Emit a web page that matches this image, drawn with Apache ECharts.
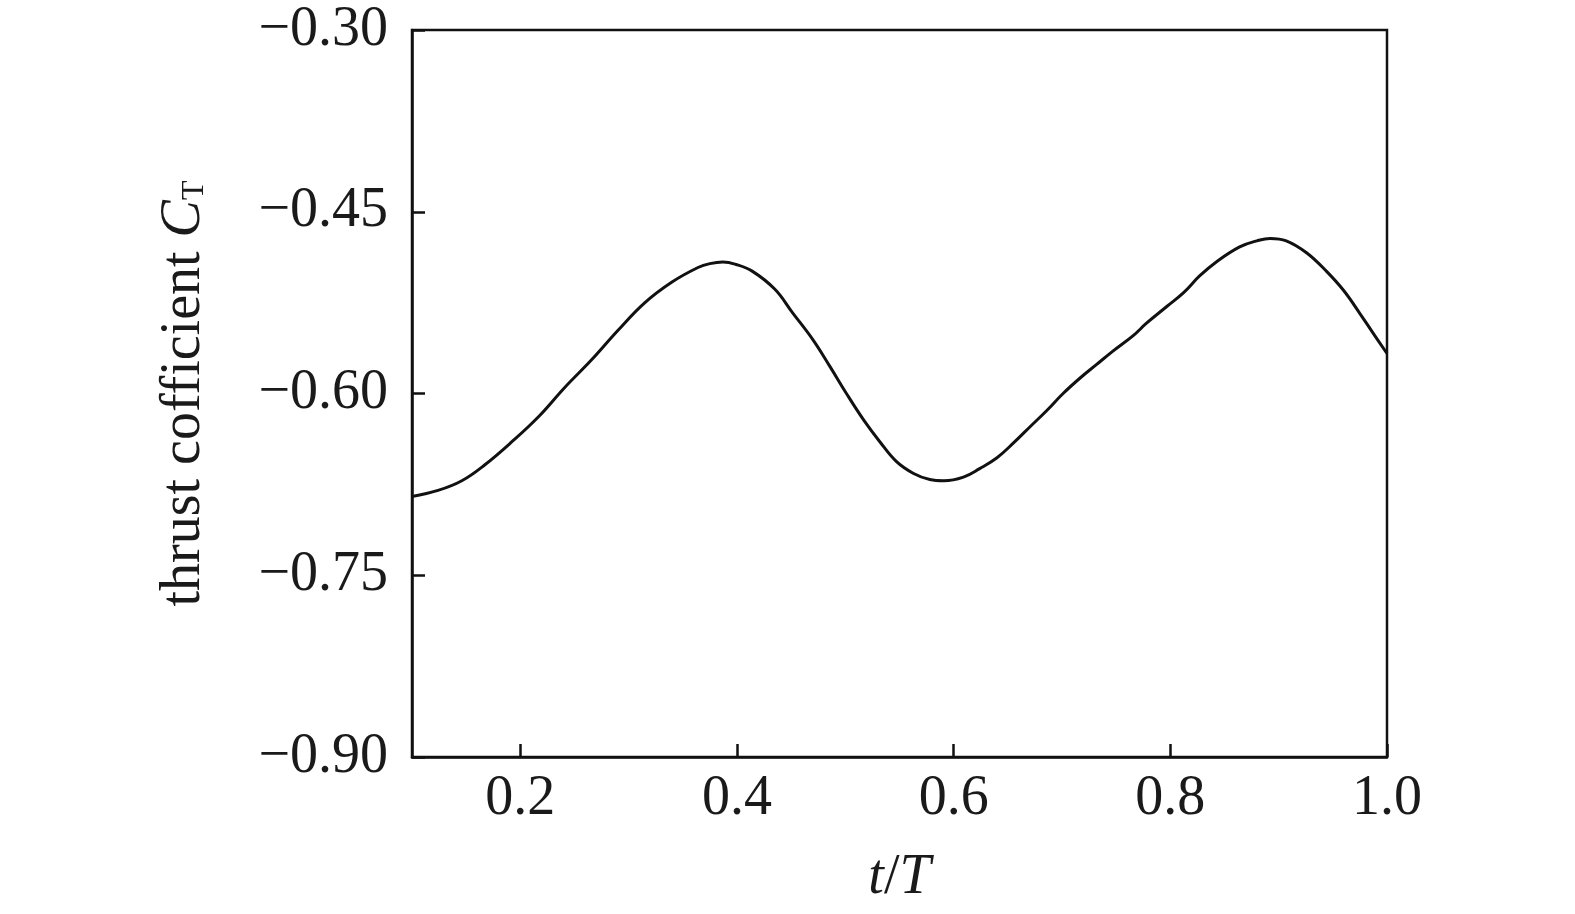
<!DOCTYPE html>
<html>
<head>
<meta charset="utf-8">
<script src="https://cdn.jsdelivr.net/npm/echarts@6/dist/echarts.min.js"></script>
<style>
html,body{margin:0;padding:0;background:#fff;}
#chart{width:1575px;height:914px;}
</style>
</head>
<body>
<div id="chart"></div>
<script>
// t/T values
var tValues = [0.100,0.124,0.146,0.167,0.192,0.217,0.241,0.266,0.290,0.315,0.340,0.364,0.375,0.387,0.399,0.414,0.435,0.451,0.470,0.486,0.501,0.517,0.532,0.547,0.563,0.578,0.591,0.609,0.624,0.640,0.655,0.671,0.686,0.701,0.717,0.732,0.747,0.766,0.778,0.797,0.812,0.827,0.843,0.864,0.880,0.892,0.907,0.926,0.944,0.960,0.975,0.987,1.000];
// thrust coefficient C_T values
var ctValues = [-0.685,-0.680,-0.672,-0.659,-0.640,-0.619,-0.595,-0.572,-0.548,-0.525,-0.508,-0.496,-0.4928,-0.4915,-0.4935,-0.499,-0.514,-0.533,-0.5555,-0.578,-0.600,-0.622,-0.640,-0.656,-0.666,-0.671,-0.672,-0.669,-0.662,-0.653,-0.641,-0.627,-0.614,-0.600,-0.587,-0.576,-0.565,-0.552,-0.542,-0.528,-0.517,-0.503,-0.491,-0.479,-0.474,-0.472,-0.474,-0.484,-0.499,-0.515,-0.534,-0.550,-0.567];
var xTickValues = [0.2,0.4,0.6,0.8,1.0];
var yTickStep = 0.15;

var seriesData = tValues.map(function(t,i){return [t, ctValues[i]];});
var FONT = '"Liberation Serif","Times New Roman",serif';
var TXT = '#1a1a1a';

var chart = echarts.init(document.getElementById('chart'));
chart.setOption({
  animation:false,
  backgroundColor:'#fff',
  grid:{left:412,right:188,top:30,bottom:157,show:true,borderColor:'#111',borderWidth:2.5,backgroundColor:'transparent'},
  xAxis:{
    type:'value',min:0.1,max:1.0,
    name:'{i|t}/{i|T}',nameLocation:'middle',nameGap:93,
    nameTextStyle:{fontFamily:FONT,fontSize:56,color:TXT,lineHeight:56,
      rich:{i:{fontFamily:FONT,fontSize:56,fontStyle:'italic',color:TXT,lineHeight:56}}},
    axisLine:{show:true,lineStyle:{color:'#111',width:2.5}},
    axisTick:{show:true,inside:true,length:13,lineStyle:{color:'#111',width:2.5},customValues:xTickValues},
    axisLabel:{show:true,margin:14,fontFamily:FONT,fontSize:56,color:TXT,lineHeight:56,customValues:xTickValues,
      formatter:function(v){return v.toFixed(1);}},
    splitLine:{show:false}
  },
  yAxis:{
    type:'value',min:-0.9,max:-0.3,interval:yTickStep,
    name:'thrust cofficient {i|C}{s|T}',nameLocation:'middle',nameGap:200,
    nameTextStyle:{fontFamily:FONT,fontSize:56,color:TXT,lineHeight:56,
      rich:{i:{fontFamily:FONT,fontSize:56,fontStyle:'italic',color:TXT,lineHeight:56},
            s:{fontFamily:FONT,fontSize:32,color:TXT,lineHeight:56,padding:[22,0,0,0]}}},
    axisLine:{show:true,lineStyle:{color:'#111',width:2.5}},
    axisTick:{show:true,inside:true,length:13,lineStyle:{color:'#111',width:2.5}},
    axisLabel:{show:true,margin:24,fontFamily:FONT,fontSize:56,color:TXT,
      formatter:function(v){return '\u2212'+Math.abs(v).toFixed(2);}},
    splitLine:{show:false}
  },
  series:[{
    type:'line',data:seriesData,showSymbol:false,smooth:0.4,
    lineStyle:{color:'#111',width:3},
    clip:true
  }]
});
</script>
</body>
</html>
